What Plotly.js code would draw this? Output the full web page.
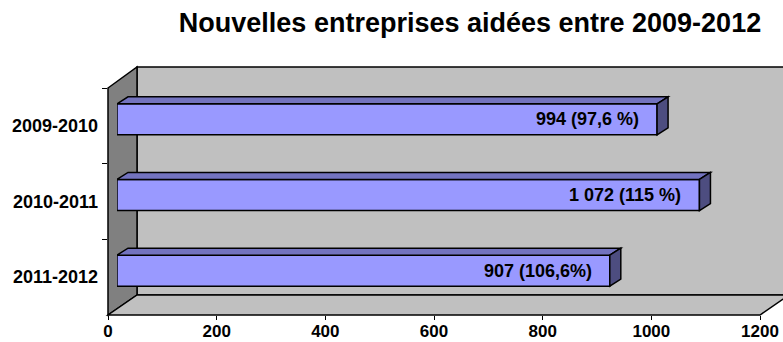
<!DOCTYPE html>
<html>
<head>
<meta charset="utf-8">
<script src="https://cdn.plot.ly/plotly-3.0.1.min.js"></script>
<style>html,body{margin:0;padding:0;background:#fff}#chart{width:783px;height:342px}</style>
</head>
<body>
<div id="chart"></div>
<script>
// ---- data ----
var categories = ["2009-2010", "2010-2011", "2011-2012"];
var values = [994, 1072, 907];
var labels = ["994 (97,6 %)", "1 072 (115 %)", "907 (106,6%)"];
var xTicks = [0, 200, 400, 600, 800, 1000, 1200];

// ---- geometry (pixels) ----
var W = 783, H = 342;
var FL = 108, FR = 760, FT = 88, FB = 315;      // front plane
var WDX = 29, WDY = 20;                          // wall depth
var SDX = 9, SDY = 6.5;                          // bar front-face shift
var BDX = 11, BDY = 7;                           // bar depth
var BAR_W = 0.41;
var XMAX = 1200;
function px(x){ return x / W; }
function py(y){ return 1 - y / H; }

var pxPerUnit = (FR - FL) / XMAX;
var catPx = (FB - FT) / categories.length;
var DXd = BDX / pxPerUnit;      // depth in x data units
var DYd = BDY / catPx;          // depth in category units

var font = "Liberation Sans, Arial, sans-serif";

var traces = [
  { type: "scatter", mode: "markers", x: values, y: categories, xaxis: "x", yaxis: "y",
    marker: { opacity: 0 }, hoverinfo: "skip", showlegend: false },
  { type: "bar", orientation: "h", x: values, y: categories, xaxis: "x2", yaxis: "y2",
    width: BAR_W, marker: { color: "#9999FF", line: { color: "#000", width: 1.5 } },
    hoverinfo: "x+y", showlegend: false }
];

var shapes = [];
// back wall
shapes.push({ type: "rect", xref: "paper", yref: "paper", layer: "below",
  x0: px(FL + WDX), x1: px(FR + WDX + 10), y0: py(FB - WDY), y1: py(FT - WDY - 1),
  fillcolor: "#C0C0C0", line: { color: "#000", width: 1.5 } });
// side wall
shapes.push({ type: "path", xref: "paper", yref: "paper", layer: "below",
  path: "M" + px(FL) + "," + py(FT) + " L" + px(FL + WDX) + "," + py(FT - WDY - 1) +
        " L" + px(FL + WDX) + "," + py(FB - WDY) + " L" + px(FL) + "," + py(FB) + " Z",
  fillcolor: "#808080", line: { color: "#000", width: 1.5 } });
// floor
shapes.push({ type: "path", xref: "paper", yref: "paper", layer: "below",
  path: "M" + px(FL) + "," + py(FB) + " L" + px(FR) + "," + py(FB) +
        " L" + px(FR + WDX) + "," + py(FB - WDY) + " L" + px(FL + WDX) + "," + py(FB - WDY) + " Z",
  fillcolor: "#C0C0C0", line: { color: "#000", width: 1.5 } });

// 3D faces of bars
var hw = BAR_W / 2;
values.forEach(function(v, i){
  var top = i - hw, bot = i + hw;
  shapes.push({ type: "path", xref: "x2", yref: "y2", layer: "above",
    path: "M0," + top + " L" + v + "," + top + " L" + (v + DXd) + "," + (top - DYd) +
          " L" + DXd + "," + (top - DYd) + " Z",
    fillcolor: "#7373BF", line: { color: "#000", width: 1.5 } });
  shapes.push({ type: "path", xref: "x2", yref: "y2", layer: "above",
    path: "M" + v + "," + top + " L" + (v + DXd) + "," + (top - DYd) +
          " L" + (v + DXd) + "," + (bot - DYd) + " L" + v + "," + bot + " Z",
    fillcolor: "#4D4D80", line: { color: "#000", width: 1.5 } });
});

var annotations = values.map(function(v, i){
  return { x: v, y: categories[i], xref: "x2", yref: "y2", text: labels[i],
    showarrow: false, xanchor: "right", yanchor: "middle", xshift: -16,
    font: { family: font, size: 18, color: "#000", weight: "bold" } };
});

var layout = {
  width: W, height: H,
  margin: { l: 0, r: 0, t: 0, b: 0 },
  paper_bgcolor: "#fff", plot_bgcolor: "rgba(0,0,0,0)",
  showlegend: false,
  title: { text: "Nouvelles entreprises aidées entre 2009-2012",
    x: 470 / W, xref: "paper", xanchor: "center", y: 1 - 23 / H, yref: "container", yanchor: "middle",
    font: { family: font, size: 27, color: "#000", weight: "bold" } },
  xaxis: { domain: [px(FL), px(FR)], range: [0, XMAX], anchor: "y",
    tickvals: xTicks, ticktext: xTicks.map(String), ticks: "outside", ticklen: 4, tickwidth: 1,
    tickcolor: "#000", showgrid: false, zeroline: false, showline: false,
    ticklabelstandoff: -3,
    tickfont: { family: font, size: 17, color: "#000", weight: "bold" }, fixedrange: true },
  yaxis: { domain: [py(FB), py(FT)], type: "category", categoryorder: "array", categoryarray: categories,
    range: [categories.length - 0.5, -0.5], anchor: "x", tickson: "boundaries",
    ticks: "outside", ticklen: 5, tickwidth: 1, tickcolor: "#000", showgrid: false, zeroline: false, showline: false,
    ticklabelstandoff: 9,
    tickfont: { family: font, size: 18, color: "#000", weight: "bold" }, fixedrange: true },
  xaxis2: { domain: [px(FL + SDX), px(FR + SDX)], range: [0, XMAX], anchor: "y2", visible: false, fixedrange: true },
  yaxis2: { domain: [py(FB - SDY), py(FT - SDY)], type: "category", categoryorder: "array", categoryarray: categories,
    range: [categories.length - 0.5, -0.5], anchor: "x2", visible: false, fixedrange: true },
  shapes: shapes,
  annotations: annotations
};

Plotly.newPlot("chart", traces, layout, { displayModeBar: false, staticPlot: true });
</script>
</body>
</html>
